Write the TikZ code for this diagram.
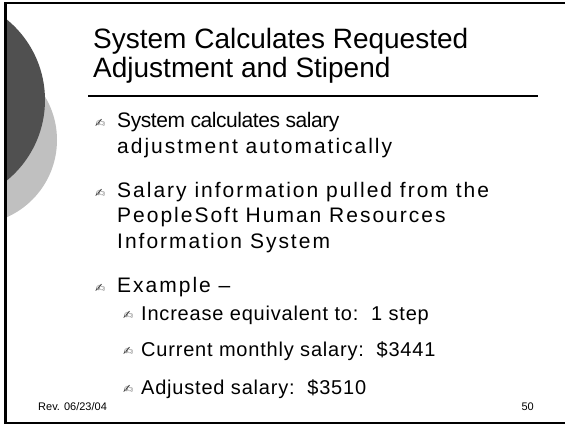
\documentclass[tikz,border=0pt]{standalone}
\usepackage{fontspec}
\setmainfont{Liberation Sans}
\newfontfamily\symfont{DejaVu Sans}
\definecolor{darkdisc}{HTML}{505050}
\definecolor{lightdisc}{HTML}{C0C0C0}
\definecolor{pen}{HTML}{404040}
\tikzset{
  titleline/.style={anchor=base west,inner sep=0,font=\fontsize{28}{30}\selectfont},
  bodyline/.style={anchor=base west,inner sep=0,font=\fontsize{21}{25}\selectfont\addfontfeature{LetterSpace=9.5}},
  plainbody/.style={anchor=base west,inner sep=0,font=\fontsize{21}{25}\selectfont\addfontfeature{LetterSpace=-2}},
  subline/.style={anchor=base west,inner sep=0,font=\fontsize{20}{24}\selectfont\addfontfeature{LetterSpace=4}},
  penmark/.style={anchor=base west,inner sep=0,text=pen,font=\symfont\fontsize{12}{12}\selectfont},
  footer/.style={anchor=base west,inner sep=0,font=\fontsize{11}{12}\selectfont}
}
\begin{document}
\begin{tikzpicture}[x=1pt,y=-1pt]
\useasboundingbox (0,0) rectangle (565,424);
% discs
\begin{scope}
\clip (5,2) rectangle (200,422);
\fill[lightdisc] (-27.5,140) circle[radius=84.5];
\fill[darkdisc] (-59,100) circle[radius=104];
\end{scope}
% frame
\draw[line width=2.5pt] (570,2.8) -- (5.3,2.8) -- (5.3,423) -- (570,423);
% title
\node[titleline] (t1) at (93,48.5) {System Calculates Requested};
\node[titleline] (t2) at (93,77.5) {Adjustment and Stipend};
\coordinate (rl) at (88,96.3);
\coordinate (rr) at (538,96.3);
\draw[line width=1.8pt] (rl) -- (rr);
% bullets level 1
\node[penmark] (b1) at (95,127) {✍};
\node[plainbody] (l1) at (117,127) {System calculates salary};
\node[bodyline] (l2) at (117,153) {adjustment automatically};
\node[penmark] (b2) at (95,197) {✍};
\node[bodyline] (l3) at (117,197) {Salary information pulled from the};
\node[bodyline] (l4) at (117,222.5) {PeopleSoft Human Resources};
\node[bodyline] (l5) at (117,248) {Information System};
\node[penmark] (b3) at (95,292) {✍};
\node[bodyline] (l6) at (117,292) {Example –};
% bullets level 2
\node[penmark] (s1) at (123,319) {✍};
\node[subline] (m1) at (141,320) {Increase equivalent to:\ \ 1 step};
\node[penmark] (s2) at (123,355) {✍};
\node[subline] (m2) at (141,356) {Current monthly salary:\ \ \$3441};
\node[penmark] (s3) at (123,393) {✍};
\node[subline] (m3) at (141,394) {Adjusted salary:\ \ \$3510};
% footer
\node[footer] (rev) at (38,410) {Rev. 06/23/04};
\node[footer,anchor=base east] (pg) at (534,410) {50};
\end{tikzpicture}
\end{document}
